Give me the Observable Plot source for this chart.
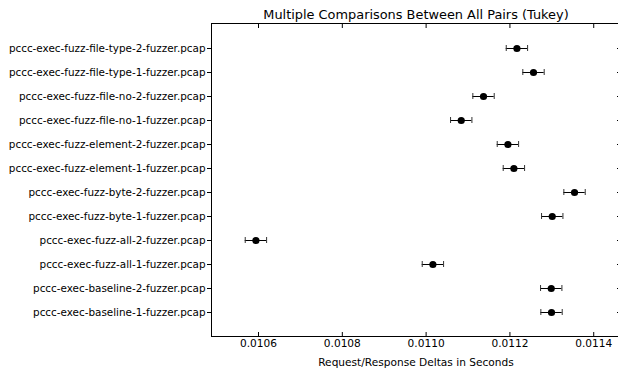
<!DOCTYPE html>
<html>
<head>
<meta charset="utf-8">
<script src="https://cdn.jsdelivr.net/npm/d3@7"></script>
<script src="https://cdn.jsdelivr.net/npm/@observablehq/plot@0.6"></script>
<style>
  html, body { margin: 0; padding: 0; background: white; }
</style>
</head>
<body>
<div id="chart"></div>
<script>
const groups = [
  "pccc-exec-fuzz-file-type-2-fuzzer.pcap",
  "pccc-exec-fuzz-file-type-1-fuzzer.pcap",
  "pccc-exec-fuzz-file-no-2-fuzzer.pcap",
  "pccc-exec-fuzz-file-no-1-fuzzer.pcap",
  "pccc-exec-fuzz-element-2-fuzzer.pcap",
  "pccc-exec-fuzz-element-1-fuzzer.pcap",
  "pccc-exec-fuzz-byte-2-fuzzer.pcap",
  "pccc-exec-fuzz-byte-1-fuzzer.pcap",
  "pccc-exec-fuzz-all-2-fuzzer.pcap",
  "pccc-exec-fuzz-all-1-fuzzer.pcap",
  "pccc-exec-baseline-2-fuzzer.pcap",
  "pccc-exec-baseline-1-fuzzer.pcap"
];
const means = [
  0.0112167, 0.0112563, 0.0111370, 0.0110838, 0.0111952, 0.0112095,
  0.0113542, 0.0113010, 0.0105938, 0.0110162, 0.0112986, 0.0112993
];
const halfWidth = 0.0000255;
const xTicks = [0.0106, 0.0108, 0.0110, 0.0112, 0.0114];
const title = "Multiple Comparisons Between All Pairs (Tukey)";
const xLabel = "Request/Response Deltas in Seconds";

const data = groups.map((g, i) => ({group: g, mean: means[i], lo: means[i] - halfWidth, hi: means[i] + halfWidth}));

const chart = Plot.plot({
  width: 618,
  height: 370,
  marginTop: 23,
  marginBottom: 34,
  marginLeft: 211,
  marginRight: -2,
  style: {fontFamily: "DejaVu Sans", fontSize: "10.4px", background: "white", color: "black"},
  x: {domain: [0.0104878, 0.0114639]},
  y: {type: "band", domain: groups, paddingInner: 0, paddingOuter: 0.5},
  marks: [
    Plot.frame({stroke: "black", strokeWidth: 1}),
    Plot.axisX({anchor: "bottom", ticks: xTicks, tickSize: -4, text: null, label: null}),
    Plot.axisX({anchor: "top", ticks: xTicks, tickSize: -4, text: null, label: null}),
    Plot.axisX({anchor: "bottom", ticks: xTicks, tickSize: 0, tickPadding: 3, tickFormat: d3.format(".4f"), label: null, fontSize: 10.6}),
    Plot.axisY({anchor: "left", tickSize: 4, tickPadding: 2, label: null, fontSize: 10.4}),
    Plot.axisY({anchor: "right", tickSize: -4, text: null, label: null}),
    Plot.ruleY(data, {y: "group", x1: "lo", x2: "hi", stroke: "black", strokeWidth: 1}),
    Plot.tickX(data, {x: "lo", y: "group", stroke: "#333", insetTop: 9, insetBottom: 9}),
    Plot.tickX(data, {x: "hi", y: "group", stroke: "#333", insetTop: 9, insetBottom: 9}),
    Plot.dot(data, {x: "mean", y: "group", r: 3.6, fill: "black", stroke: null}),
    Plot.text([title], {frameAnchor: "top", lineAnchor: "middle", dy: -9, fontSize: 12.9, fill: "black"}),
    Plot.text([xLabel], {frameAnchor: "bottom", lineAnchor: "middle", dy: 26, fontSize: 10.6, fill: "black"})
  ]
});
document.getElementById("chart").appendChild(chart);
</script>
</body>
</html>
